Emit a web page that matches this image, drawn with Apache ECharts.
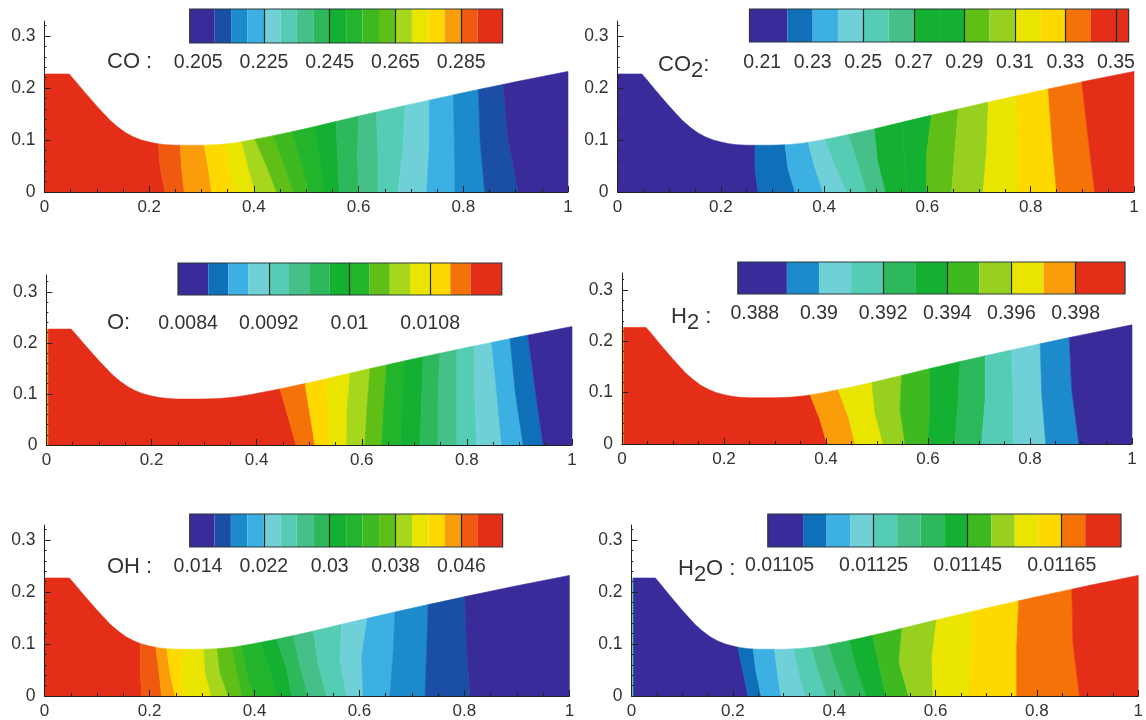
<!DOCTYPE html>
<html><head><meta charset="utf-8">
<style>html,body{margin:0;padding:0;background:#fff}#c{width:1146px;height:720px;filter:blur(0.55px)}</style>
<script src="https://cdn.jsdelivr.net/npm/echarts@6/dist/echarts.min.js"></script>
</head><body><div id="c"></div>
<script>
// Nozzle wall profile (shared)
const wallX = [0,0.047,0.055,0.075,0.10,0.125,0.14,0.155,0.17,0.185,0.20,0.215,0.23,0.25,0.30,0.33,0.36,0.39,0.42,0.45,0.50,0.55,0.60,0.70,0.80,0.90,1];
const wallY = [0.227,0.227,0.218,0.194,0.165,0.138,0.125,0.114,0.106,0.10,0.096,0.093,0.091,0.09,0.09,0.091,0.094,0.099,0.105,0.111,0.122,0.134,0.146,0.169,0.191,0.212,0.232];
const palette = ['#3a2b9b','#1a4fa5','#1c8acb','#3cb0e2','#70d0d8','#55cdb5','#45c088','#2eb85c','#14b032','#22b42a','#3eba20','#5fbf16','#a6d71c','#eae500','#fdd900','#fb9c0a','#ef5a10','#e42e18','#0f6fb8','#f57208','#98d020'];
const xTicks = [0,0.2,0.4,0.6,0.8,1];
const yTicks = [0,0.1,0.2,0.3];

// CO
const coLevels = [0.2024,0.21,0.215,0.22,0.225,0.23,0.235,0.24,0.245,0.25,0.255,0.26,0.265,0.27,0.275,0.28,0.285,0.29,0.2976];
const coColors = [0,1,2,3,4,5,6,7,8,9,10,11,12,13,14,15,16,17];
const coLabels = [0.205,0.225,0.245,0.265,0.285];
const coLines = [0.225,0.245,0.265,0.285];
const coBottom = [0.23,0.267,0.319,0.361,0.402,0.4435,0.475,0.505,0.535,0.563,0.60,0.637,0.675,0.73,0.784,0.841,0.905];
const coMid = [0.221,0.262,0.313,0.355,0.389,0.424,0.456,0.49,0.525,0.56,0.598,0.637,0.685,0.735,0.783,0.832,0.885];
const coTop = [0.2175,0.259,0.305,0.345,0.377,0.402,0.437,0.473,0.515,0.557,0.60,0.634,0.689,0.735,0.781,0.829,0.876];
// CO2
const co2Levels = [0.205,0.22,0.23,0.24,0.25,0.26,0.27,0.28,0.29,0.30,0.31,0.32,0.33,0.34,0.355];
const co2Colors = [0,18,3,4,5,6,8,8,11,20,13,14,19,17];
const co2Labels = [0.21,0.23,0.25,0.27,0.29,0.31,0.33,0.35];
const co2Lines = [0.25,0.27,0.29,0.31,0.33,0.35];
const co2Bottom = [0.272,0.3435,0.398,0.444,0.482,0.519,0.56,0.5986,0.647,0.708,0.776,0.85,0.924];
const co2Mid = [0.266,0.33,0.382,0.421,0.466,0.504,0.555,0.5986,0.653,0.715,0.776,0.841,0.911];
const co2Top = [0.266,0.324,0.369,0.402,0.447,0.498,0.552,0.608,0.66,0.718,0.773,0.834,0.899];
// O
const oLevels = [0.0083,0.0086,0.0088,0.009,0.0092,0.0094,0.0096,0.0098,0.01,0.0102,0.0104,0.0106,0.0108,0.011,0.0112,0.01151];
const oColors = [0,18,3,4,5,6,7,8,9,11,12,13,14,19,17];
const oLabels = [0.0084,0.0092,0.01,0.0108];
const oLines = [0.0092,0.01,0.0108];
const oBottom = [0.475,0.511,0.5396,0.571,0.606,0.638,0.673,0.711,0.745,0.781,0.819,0.866,0.907,0.945];
const oMid = [0.46,0.5015,0.536,0.572,0.61,0.642,0.676,0.714,0.745,0.781,0.815,0.857,0.892,0.93];
const oTop = [0.4445,0.492,0.533,0.578,0.616,0.647,0.682,0.717,0.749,0.781,0.815,0.847,0.882,0.916];
// H2
const h2Levels = [0.38747,0.389,0.39,0.391,0.392,0.393,0.394,0.395,0.396,0.397,0.398,0.39954];
const h2Colors = [0,2,4,5,7,8,10,20,13,15,17];
const h2Labels = [0.388,0.39,0.392,0.394,0.396,0.398];
const h2Lines = [0.392,0.394,0.396,0.398];
const h2Bottom = [0.402,0.457,0.512,0.555,0.60,0.653,0.705,0.767,0.831,0.896];
const h2Mid = [0.388,0.444,0.496,0.545,0.604,0.659,0.712,0.767,0.823,0.882];
const h2Top = [0.369,0.424,0.49,0.548,0.604,0.663,0.712,0.764,0.82,0.877];
// OH
const ohLevels = [0.013,0.016,0.018,0.02,0.022,0.024,0.026,0.028,0.03,0.032,0.034,0.036,0.038,0.04,0.042,0.044,0.046,0.048,0.051];
const ohColors = [0,1,2,3,4,5,6,7,8,9,10,11,12,13,14,15,16,17];
const ohLabels = [0.014,0.022,0.03,0.038,0.046];
const ohLines = [0.022,0.03,0.038,0.046];
const ohBottom = [0.185,0.223,0.2485,0.265,0.318,0.3497,0.3755,0.397,0.442,0.471,0.502,0.5375,0.5757,0.607,0.658,0.725,0.8107];
const ohMid = [0.182,0.218,0.239,0.262,0.306,0.334,0.366,0.385,0.4295,0.461,0.487,0.521,0.563,0.604,0.664,0.728,0.804];
const ohTop = [0.182,0.212,0.2327,0.265,0.304,0.3288,0.3565,0.3755,0.41,0.442,0.474,0.512,0.566,0.615,0.6675,0.731,0.801];
// H2O
const h2oLevels = [0.011025,0.0111,0.01115,0.0112,0.01125,0.0113,0.01135,0.0114,0.01145,0.0115,0.01155,0.0116,0.01165,0.0117,0.011776];
const h2oColors = [0,18,3,4,5,6,7,8,10,20,13,14,19,17];
const h2oLabels = [0.01105,0.01125,0.01145,0.01165];
const h2oLines = [0.01125,0.01145,0.01165];
const h2oBottom = [0.23,0.256,0.295,0.343,0.3855,0.424,0.463,0.502,0.547,0.595,0.667,0.76,0.884];
const h2oMid = [0.22,0.246,0.288,0.33,0.369,0.405,0.444,0.489,0.528,0.593,0.67,0.76,0.871];
const h2oTop = [0.21,0.24,0.282,0.321,0.356,0.389,0.43,0.476,0.534,0.602,0.673,0.764,0.869];

const panels = [
 {levels:coLevels,colors:coColors,labels:coLabels,lines:coLines,bottom:coBottom,mid:coMid,top:coTop,falling:true,
  title:'{a|CO :}',tx:107,ty:51, plot:{l:44.5,r:568,t:21,b:192,ymax:0.329}, bar:{l:189.7,r:502.6,t:9,b:43,m:10}},
 {levels:co2Levels,colors:co2Colors,labels:co2Labels,lines:co2Lines,bottom:co2Bottom,mid:co2Mid,top:co2Top,falling:false,
  title:'{a|CO}{s|2}{a|:}',tx:658,ty:47, plot:{l:617.6,r:1134,t:21,b:192,ymax:0.329}, bar:{l:749.5,r:1128.6,t:9,b:42,m:11}},
 {levels:oLevels,colors:oColors,labels:oLabels,lines:oLines,bottom:oBottom,mid:oMid,top:oTop,falling:true,edge:15,
  title:'{a|O:}',tx:107,ty:312, plot:{l:46.4,r:572,t:275,b:445,ymax:0.333}, bar:{l:178,r:501.8,t:263,b:295,m:19}},
 {levels:h2Levels,colors:h2Colors,labels:h2Labels,lines:h2Lines,bottom:h2Bottom,mid:h2Mid,top:h2Top,falling:true,edge:15,
  title:'{a|H}{s|2}{a| :}',tx:671,ty:299, plot:{l:622,r:1132,t:273,b:444,ymax:0.333}, bar:{l:737.8,r:1125,t:262,b:294,m:10}},
 {levels:ohLevels,colors:ohColors,labels:ohLabels,lines:ohLines,bottom:ohBottom,mid:ohMid,top:ohTop,falling:true,
  title:'{a|OH :}',tx:107,ty:556, plot:{l:44.6,r:569.4,t:525,b:699,ymax:0.329}, bar:{l:189.7,r:502.6,t:514,b:547,m:10}},
 {levels:h2oLevels,colors:h2oColors,labels:h2oLabels,lines:h2oLines,bottom:h2oBottom,mid:h2oMid,top:h2oTop,falling:false,edge:5,
  title:'{a|H}{s|2}{a|O :}',tx:678,ty:551, plot:{l:631.5,r:1146,t:525,b:699,ymax:0.329}, bar:{l:767.8,r:1121,t:514,b:547,m:9}}
];

const W = 1146, H = 720;
const ink = '#222', textInk = '#333';
const font = '"Liberation Sans",Arial,sans-serif';

function wallAt(x){
  for(let i=1;i<wallX.length;i++){
    if(x<=wallX[i]){const f=(x-wallX[i-1])/(wallX[i]-wallX[i-1]);return wallY[i-1]+f*(wallY[i]-wallY[i-1]);}
  }
  return wallY[wallY.length-1];
}
function renderBand(params,api){
  const bL=api.value(0),bR=api.value(1),mL=api.value(2),mR=api.value(3),tL=api.value(4),tR=api.value(5),ci=api.value(6);
  const pts=[api.coord([bL,0]),api.coord([bR,0]),api.coord([mR,wallAt(tR)/2]),api.coord([tR,wallAt(tR)])];
  for(let i=wallX.length-1;i>=0;i--){ if(wallX[i]<tR&&wallX[i]>tL) pts.push(api.coord([wallX[i],wallY[i]])); }
  pts.push(api.coord([tL,wallAt(tL)]));
  pts.push(api.coord([mL,wallAt(tL)/2]));
  return {type:'polygon',shape:{points:pts},style:{fill:palette[ci],stroke:palette[ci],lineWidth:0.6}};
}
function renderCell(params,api){
  const a=api.coord([api.value(0),0]),b=api.coord([api.value(1),1]);
  const ci=api.value(2);
  return {type:'rect',shape:{x:a[0],y:b[1],width:b[0]-a[0],height:a[1]-b[1]},style:{fill:palette[ci]}};
}
function renderFrame(params,api){
  const a=api.coord([api.value(0),0]),b=api.coord([api.value(1),1]);
  return {type:'rect',shape:{x:a[0],y:b[1],width:b[0]-a[0],height:a[1]-b[1]},style:{fill:'none',stroke:'#2a3a3a',lineWidth:1.2}};
}

const grid=[],xAxis=[],yAxis=[],series=[],title=[];
panels.forEach((p,k)=>{
  // contour plot
  const gi=grid.length;
  grid.push({left:p.plot.l,width:p.plot.r-p.plot.l,top:p.plot.t,height:p.plot.b-p.plot.t,containLabel:false});
  xAxis.push({type:'value',gridIndex:gi,min:0,max:1,interval:0.2,z:5,splitLine:{show:false},
    axisLine:{lineStyle:{color:ink,width:1}},axisTick:{inside:true,length:6,lineStyle:{color:ink}},
    minorTick:{show:true,splitNumber:4,length:3,lineStyle:{color:ink}},
    axisLabel:{color:textInk,fontFamily:font,fontSize:17,margin:7,customValues:xTicks,formatter:v=>String(+v.toFixed(1))}});
  yAxis.push({type:'value',gridIndex:gi,min:0,max:p.plot.ymax,interval:0.1,z:5,splitLine:{show:false},
    axisLine:{onZero:false,lineStyle:{color:ink,width:1}},axisTick:{inside:true,length:6,lineStyle:{color:ink},customValues:yTicks},
    minorTick:{show:true,splitNumber:5,length:2,lineStyle:{color:ink}},
    axisLabel:{color:textInk,fontFamily:font,fontSize:17.5,margin:9,customValues:yTicks,formatter:v=>String(+v.toFixed(1))}});
  const cols=p.falling?p.colors.slice().reverse():p.colors;
  const rows=[];
  let start=0;
  if(p.edge!==undefined){rows.push([0,0.004,0,0.004,0,0.004,p.edge]);start=0.004;}
  const n=cols.length;
  cols.forEach((c,i)=>{
    rows.push([i===0?start:p.bottom[i-1],i===n-1?1:p.bottom[i],
               i===0?start:p.mid[i-1],i===n-1?1:p.mid[i],
               i===0?start:p.top[i-1],i===n-1?1:p.top[i],c]);
  });
  series.push({type:'custom',xAxisIndex:gi,yAxisIndex:gi,renderItem:renderBand,data:rows,clip:false,silent:true,z:2});

  // colour bar
  const bi=grid.length, L=p.levels;
  grid.push({left:p.bar.l,width:p.bar.r-p.bar.l,top:p.bar.t,height:p.bar.b-p.bar.t,containLabel:false});
  xAxis.push({type:'value',gridIndex:bi,min:L[0],max:L[L.length-1],z:5,splitLine:{show:false},
    axisLine:{show:false},
    axisTick:{inside:true,length:p.bar.b-p.bar.t,lineStyle:{color:'#1a2a22',width:1.2},customValues:p.lines},
    axisLabel:{color:textInk,fontFamily:font,fontSize:19.5,margin:p.bar.m,customValues:p.labels,hideOverlap:false,formatter:v=>String(v)}});
  yAxis.push({type:'value',gridIndex:bi,min:0,max:1,show:false});
  series.push({type:'custom',xAxisIndex:bi,yAxisIndex:bi,renderItem:renderCell,clip:false,silent:true,z:2,
    data:p.colors.map((c,i)=>[L[i],L[i+1],c])});
  series.push({type:'custom',xAxisIndex:bi,yAxisIndex:bi,renderItem:renderFrame,clip:false,silent:true,z:3,
    data:[[L[0],L[L.length-1]]]});

  title.push({text:p.title,left:p.tx,top:p.ty,padding:0,textStyle:{fontWeight:'normal',rich:{
    a:{fontFamily:font,fontSize:22,fontWeight:'normal',color:textInk},
    s:{fontFamily:font,fontSize:22,fontWeight:'normal',color:textInk,padding:[13,0,0,0]}}}});
});

const chart=echarts.init(document.getElementById('c'),null,{width:W,height:H,renderer:'canvas'});
chart.setOption({animation:false,backgroundColor:'#fff',title,grid,xAxis,yAxis,series});
</script></body></html>
